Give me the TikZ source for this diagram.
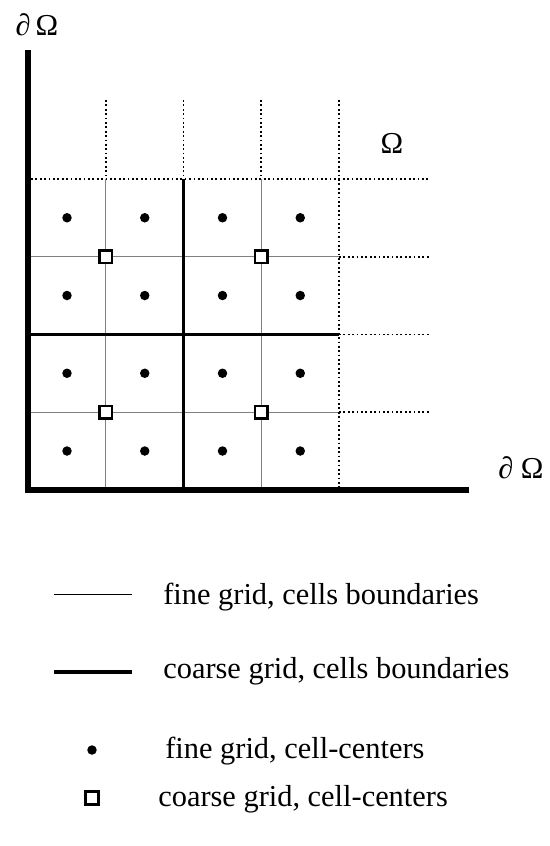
\documentclass[tikz,border=0pt]{standalone}
\usepackage{fontspec}
\setmainfont{Liberation Serif}
\usetikzlibrary{positioning}

\tikzset{
  fineline/.style={gray,line width=0.8pt},
  coarseline/.style={line width=2.2pt},
  bdline/.style={line width=3.4pt},
  gridcont/.style={line width=1pt,dash pattern=on 1pt off 1.5pt},
  cellctr/.style={circle,fill,inner sep=0pt,minimum size=5.4pt},
  coarsectr/.style={draw,fill=white,line width=1.5pt,inner sep=0pt,minimum size=0.25cm},
  legtext/.style={anchor=west,inner sep=0pt}
}

\begin{document}
\begin{tikzpicture}[x=0.02cm,y=-0.02cm,font=\fontsize{17.3}{20}\selectfont]
  \useasboundingbox (0,0) rectangle (550,846);
  % fine grid
  \foreach \i in {1,3}{
    \draw[fineline] ({28+77.75*\i},179) -- ({28+77.75*\i},490);
    \draw[fineline] (28,{490-77.75*\i}) -- (339,{490-77.75*\i});
  }
  % continuation of the grid
  \foreach \i in {1,...,4} \draw[gridcont] ({28+77.75*\i},100) -- ({28+77.75*\i},179);
  \draw[gridcont] (339,179) -- (339,490);
  \draw[gridcont] (31,179) -- (430,179);
  \foreach \j in {1,2,3} \draw[gridcont] (339,{490-77.75*\j}) -- (430,{490-77.75*\j});
  % coarse grid
  \draw[coarseline] (183.5,179) -- (183.5,490);
  \draw[coarseline] (28,334.5) -- (339,334.5);
  % boundary
  \draw[bdline] (28,50) -- (28,490) -- (469,490);
  % cell-centers
  \foreach \i in {0,...,3} \foreach \j in {0,...,3}
    \node[cellctr] (f\i\j) at ({67+77.75*\i},{451-77.75*\j}) {};
  \foreach \i in {1,3} \foreach \j in {1,3}
    \node[coarsectr] (c\i\j) at ({28+77.75*\i},{490-77.75*\j}) {};
  % labels
  \node (dOmegaTop) at (37,25) {∂\,Ω};
  \node (Omega) at (392,143) {Ω};
  \node (dOmegaRight) at (521,468) {∂ Ω};
  % legend
  \draw (54,594) -- (132,594);
  \node[legtext] (lfine) at (163,597) {fine grid, cells boundaries};
  \draw[line width=2.4pt] (54,672) -- (132,672);
  \node[legtext] (lcoarse) at (163,671) {coarse grid, cells boundaries};
  \node[cellctr] (lfdot) at (92,750) {};
  \node[legtext] (lfctr) at (165,751) {fine grid, cell-centers};
  \node[coarsectr] (lcsq) at (92,798) {};
  \node[legtext] (lcctr) at (158,799) {coarse grid, cell-centers};
\end{tikzpicture}
\end{document}
